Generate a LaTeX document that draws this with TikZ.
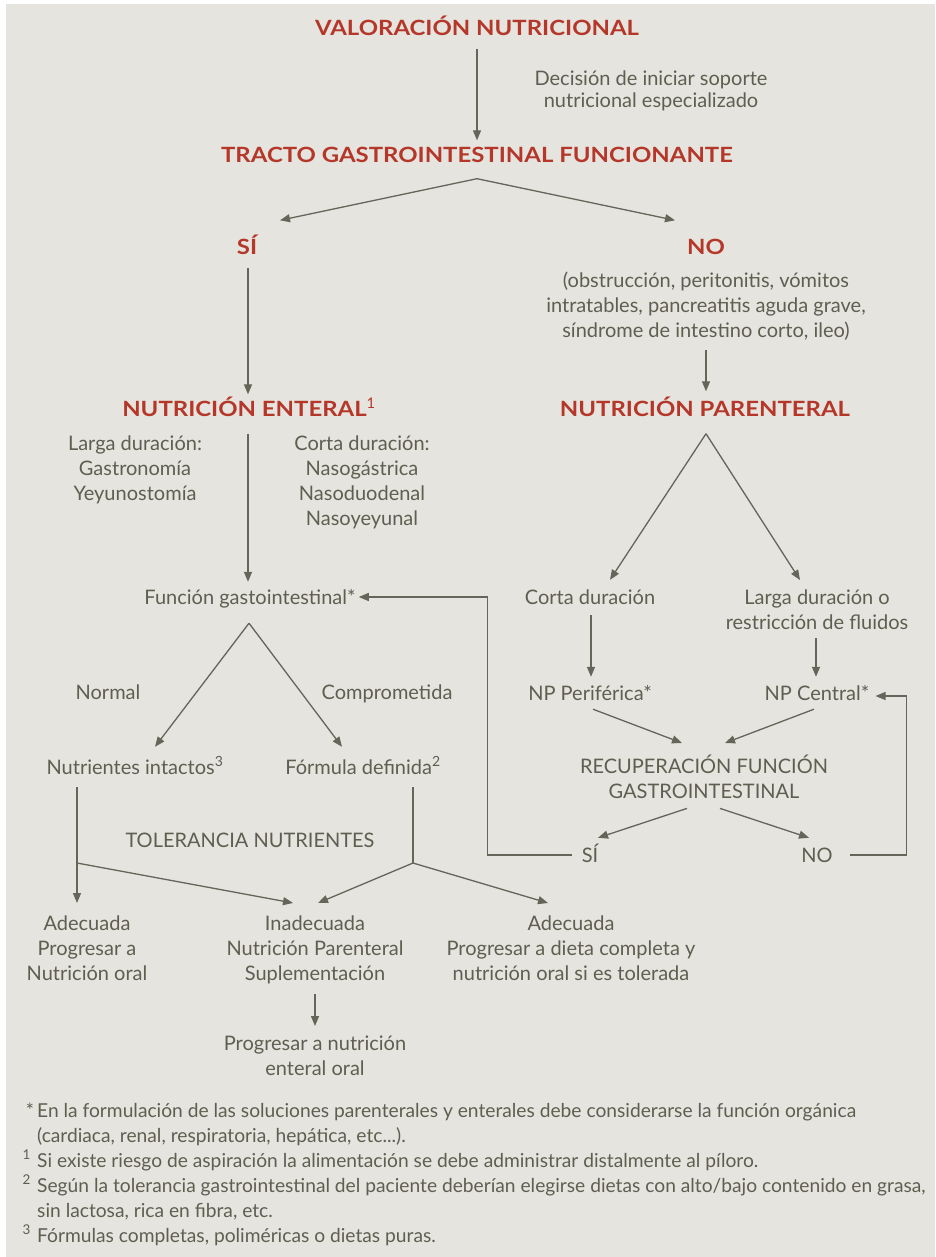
\documentclass[tikz,border=0pt]{standalone}
\usepackage{fontspec}
\setmainfont{Lato}
\usetikzlibrary{arrows.meta}
\definecolor{panel}{HTML}{E5E4DE}
\definecolor{ink}{HTML}{5F5E50}
\definecolor{rust}{HTML}{B5372A}
\definecolor{wirecol}{HTML}{65655A}
% struts that fix the top of the first line and the bottom of the last line
\newcommand{\TopS}{\rule{0pt}{20pt}}
\newcommand{\BotS}{\rule[-6pt]{0pt}{6pt}}

\begin{document}
\begin{tikzpicture}[x=1pt,y=-1pt,
  txt/.style={inner sep=0pt, text=ink, font=\fontsize{20}{25}\selectfont},
  one/.style={txt, text height=14pt, text depth=0pt},
  multi/.style={txt, align=center, anchor=north},
  head/.style={inner sep=0pt, text=rust,
    font=\fontsize{21}{25}\selectfont\bfseries\addfontfeatures{FakeStretch=1.14},
    text height=15pt, text depth=0pt},
  arr/.style={draw=wirecol, line width=1.3pt, -{Triangle[length=10pt,width=8pt]}},
  plain/.style={draw=wirecol, line width=1.3pt},
]
\useasboundingbox (0,0) rectangle (935,1257);
\fill[white] (0,0) rectangle (935,1257);
\fill[panel] (6,4) rectangle (935,1257);

% ---------- top ----------
\node[head] (valor) at (477,28) {VALORACIÓN NUTRICIONAL};
\node[multi, font=\fontsize{20}{22}\selectfont] (decis) at (651,65)
  {\TopS Decisión de iniciar soporte\\nutricional especializado};
\node[head] (tracto) at (477,155) {TRACTO GASTROINTESTINAL FUNCIONANTE};
\node[head] (si1) at (247,247) {SÍ};
\node[head] (no1) at (706,247) {NO};
\node[multi] (noexp) at (706,267)
  {\TopS(obstrucción, peritonitis, vómitos\\intratables, pancreatitis aguda grave,\\síndrome de intestino corto, ileo)\BotS};

% ---------- enteral branch ----------
\node[head] (enteral) at (249,409) {NUTRICIÓN ENTERAL\textsuperscript{\normalfont 1}};
\node[multi] (larga) at (135,430) {\TopS Larga duración:\\Gastronomía\\Yeyunostomía};
\node[multi] (corta) at (362,430) {\TopS Corta duración:\\Nasogástrica\\Nasoduodenal\\Nasoyeyunal};
\node[one] (funcion) at (250,597) {Función gastointestinal*};
\node[one] (normal) at (108,692) {Normal};
\node[one] (compro) at (387,692) {Comprometida};
\node[one] (nutri) at (135,767) {Nutrientes intactos\textsuperscript{3}};
\node[one] (formula) at (363,767) {Fórmula definida\textsuperscript{2}};
\node[one] (toler) at (250,840) {TOLERANCIA NUTRIENTES};
\node[multi] (adec1) at (87,910) {\TopS Adecuada\\Progresar a\\Nutrición oral};
\node[multi] (inad) at (315,910) {\TopS Inadecuada\\Nutrición Parenteral\\Suplementación\BotS};
\node[multi] (adec2) at (571,910) {\TopS Adecuada\\Progresar a dieta completa y\\nutrición oral si es tolerada};
\node[multi] (progr) at (315,1030) {\TopS Progresar a nutrición\\enteral oral};

% ---------- parenteral branch ----------
\node[head] (parent) at (705,409) {NUTRICIÓN PARENTERAL};
\node[one] (corta2) at (590,597) {Corta duración};
\node[multi] (larga2) at (817,584) {\TopS Larga duración o\\restricción de fluidos\BotS};
\node[one] (npper) at (590,693) {NP Periférica*};
\node[one] (npcen) at (817,693) {NP Central*};
\node[multi] (recup) at (704,753) {\TopS RECUPERACIÓN FUNCIÓN\\GASTROINTESTINAL\BotS};
\node[one] (si2) at (590,855) {SÍ};
\node[one] (no2) at (817,855) {NO};

% ---------- footnotes ----------
\node[txt, font=\fontsize{19.2}{25}\selectfont, align=left, anchor=north west] (notes) at (37,1097)
  {\TopS\llap{*\,}En la formulación de las soluciones parenterales y enterales debe considerarse la función orgánica\\
   (cardiaca, renal, respiratoria, hepática, etc...).\\
   \llap{\textsuperscript{1}\,\,}Si existe riesgo de aspiración la alimentación se debe administrar distalmente al píloro.\\
   \llap{\textsuperscript{2}\,\,}Según la tolerancia gastrointestinal del paciente deberían elegirse dietas con alto/bajo contenido en grasa,\\
   sin lactosa, rica en fibra, etc.\\
   \llap{\textsuperscript{3}\,\,}Fórmulas completas, poliméricas o dietas puras.};

% ---------- connectors ----------
\draw[arr] ([yshift=-13pt]valor.south) -- ([yshift=7pt]tracto.north);
\draw[arr] ([yshift=-16pt]tracto.south) -- ([xshift=33pt,yshift=19pt]si1.north);
\draw[arr] ([yshift=-16pt]tracto.south) -- ([xshift=-31pt,yshift=19pt]no1.north);
\draw[arr] ([xshift=1pt,yshift=-13pt]si1.south) -- ([xshift=-1pt,yshift=7pt]enteral.north);
\draw[arr] ([yshift=-7pt]noexp.south) -- ([xshift=1pt,yshift=10pt]parent.north);

\draw[arr] ([xshift=-1pt,yshift=-17pt]enteral.south) -- ([xshift=-2pt,yshift=8pt]funcion.north);
\draw[arr] ([xshift=-1pt,yshift=-19pt]funcion.south) -- ([xshift=20pt,yshift=13pt]nutri.north);
\draw[arr] ([xshift=-1pt,yshift=-19pt]funcion.south) -- ([xshift=-21pt,yshift=13pt]formula.north);

\coordinate (tolL) at (77,863);
\coordinate (tolR) at (413,863);
\draw[arr] ([xshift=-58pt,yshift=-13pt]nutri.south) -- ([xshift=-10pt,yshift=7pt]adec1.north);
\draw[plain] ([xshift=50pt,yshift=-13pt]formula.south) -- (tolR);
\draw[arr] (tolL) -- ([xshift=-22pt,yshift=7pt]inad.north);
\draw[arr] (tolR) -- ([xshift=3pt,yshift=7pt]inad.north);
\draw[arr] (tolR) -- ([xshift=-23pt,yshift=7pt]adec2.north);
\draw[arr] ([yshift=-8pt]inad.south) -- ([yshift=4pt]progr.north);

\draw[arr] ([xshift=1pt,yshift=-17pt]parent.south) -- ([xshift=20pt,yshift=10pt]corta2.north);
\draw[arr] ([xshift=1pt,yshift=-17pt]parent.south) -- ([xshift=-17pt,yshift=4pt]larga2.north);
\draw[arr] ([xshift=1pt,yshift=-11pt]corta2.south) -- ([xshift=1pt,yshift=9pt]npper.north);
\draw[arr] ([xshift=-1pt,yshift=-3pt]larga2.south) -- ([xshift=-1pt,yshift=9pt]npcen.north);
\draw[arr] ([xshift=3pt,yshift=-9pt]npper.south) -- ([xshift=-22pt,yshift=10pt]recup.north);
\draw[arr] ([xshift=-3pt,yshift=-9pt]npcen.south) -- ([xshift=21pt,yshift=10pt]recup.north);
\draw[arr] ([xshift=-17pt,yshift=-4pt]recup.south) -- ([xshift=8pt,yshift=10pt]si2.north);
\draw[arr] ([xshift=16pt,yshift=-4pt]recup.south) -- ([xshift=-8pt,yshift=10pt]no2.north);

% feedback loops
\draw[arr] ([xshift=-10pt]si2.west) -| ([xshift=132pt]funcion.east) -- ([xshift=3pt]funcion.east);
\draw[arr] ([xshift=17pt]no2.east) -| ([xshift=37pt,yshift=-3pt]npcen.east) -- ([xshift=6pt,yshift=-3pt]npcen.east);
\end{tikzpicture}
\end{document}
